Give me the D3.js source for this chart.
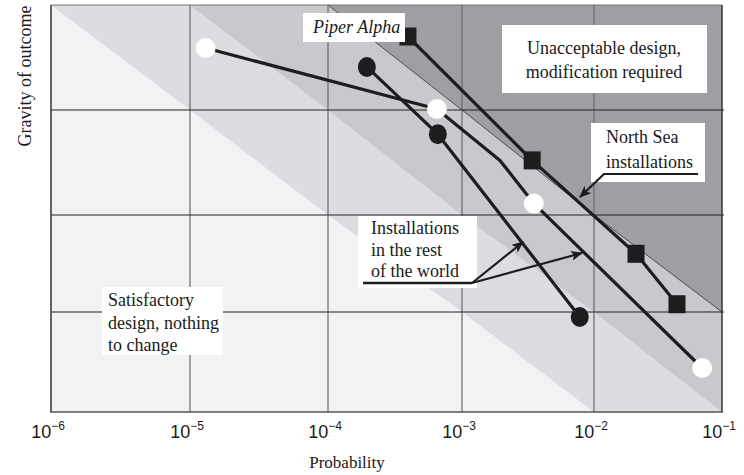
<!DOCTYPE html>
<meta charset="utf-8">
<script src="https://d3js.org/d3.v7.min.js"></script>
<style>
    body { margin: 0; background: #fff; }
    .serif { font-family: "Liberation Serif", "Times New Roman", serif; fill: #1a1a1a; }
    .tick { font-family: "Liberation Sans", Arial, sans-serif; fill: #1a1a1a; }
</style>
<div id="chart"></div>
<script>
    // axis ticks
    var decades = [1e-6, 1e-5, 1e-4, 1e-3, 1e-2, 1e-1];
    var decadeExp = ["\u22126", "\u22125", "\u22124", "\u22123", "\u22122", "\u22121"];
    var gravityLevels = [0, 1, 2, 3, 4];

    // installations in the rest of the world (white circles), 3rd point is a bend without marker
    var whiteProb = [1.3e-5, 6.5e-4, 1.94e-3, 3.5e-3, 7.0e-2];
    var whiteGrav = [3.59, 3.01, 2.52, 2.11, 0.44];
    var whiteMarker = [true, true, false, true, true];

    // installations in the rest of the world (black circles)
    var blackProb = [1.95e-4, 6.6e-4, 7.8e-3];
    var blackGrav = [3.41, 2.77, 0.95];

    // North Sea installations (squares)
    var squareProb = [3.95e-4, 3.4e-3, 2.13e-2, 4.45e-2];
    var squareGrav = [3.70, 2.52, 1.60, 1.08];

    // risk zone boundaries: log10(p) + gravity = c
    var zoneLimits = [-2, -1, 0];
    var zoneColors = ["#f1f2f4", "#dcdde0", "#c8c9cc", "#9e9fa3"];

    var width = 744, height = 475;
    var svg = d3.select("#chart").append("svg")
        .attr("width", width).attr("height", height);

    var x = d3.scaleLog().domain(decades).range([51, 190, 328, 462, 594, 722]);
    var y = d3.scaleLinear().domain(gravityLevels).range([412, 312, 215, 110, 5]);

    var pMin = decades[0], pMax = decades[decades.length - 1];
    var gMin = gravityLevels[0], gMax = gravityLevels[gravityLevels.length - 1];

    // background zones
    svg.append("rect")
        .attr("x", x(pMin)).attr("y", y(gMax))
        .attr("width", x(pMax) - x(pMin)).attr("height", y(gMin) - y(gMax))
        .attr("fill", zoneColors[0]);

    function boundary(c) {
        var pts = [];
        decades.forEach(function (p) {
            var g = c - Math.log10(p);
            if (g >= gMin - 1e-9 && g <= gMax + 1e-9) pts.push([p, g]);
        });
        return pts;
    }

    zoneLimits.forEach(function (c, i) {
        var pts = boundary(c);
        var last = pts[pts.length - 1];
        var poly = pts.slice();
        if (last[0] < pMax) poly.push([pMax, last[1]]);
        poly.push([pMax, gMax]);
        svg.append("path")
            .attr("d", d3.line().x(d => x(d[0])).y(d => y(d[1]))(poly) + "Z")
            .attr("fill", zoneColors[i + 1]);
    });

    // thin line on the unacceptable limit
    svg.append("path")
        .attr("d", d3.line().x(d => x(d[0])).y(d => y(d[1]))(boundary(zoneLimits[2])))
        .attr("stroke", "#222").attr("stroke-width", 0.7).attr("fill", "none");

    // grid
    svg.selectAll(".vgrid").data(decades.slice(1, -1)).enter().append("line")
        .attr("x1", d => x(d)).attr("x2", d => x(d))
        .attr("y1", y(gMax)).attr("y2", y(gMin))
        .attr("stroke", "#6a6a6a").attr("stroke-width", 1.2);
    svg.selectAll(".hgrid").data(gravityLevels.slice(1, -1)).enter().append("line")
        .attr("x1", x(pMin)).attr("x2", x(pMax) + 2)
        .attr("y1", d => y(d)).attr("y2", d => y(d))
        .attr("stroke", "#222").attr("stroke-width", 1.2);

    // frame
    svg.append("line").attr("x1", x(pMin)).attr("x2", x(pMax)).attr("y1", y(gMax)).attr("y2", y(gMax))
        .attr("stroke", "#777").attr("stroke-width", 1);
    svg.append("line").attr("x1", x(pMax)).attr("x2", x(pMax)).attr("y1", y(gMax)).attr("y2", y(gMin))
        .attr("stroke", "#333").attr("stroke-width", 1.5);
    svg.append("line").attr("x1", x(pMin)).attr("x2", x(pMin)).attr("y1", y(gMax)).attr("y2", y(gMin))
        .attr("stroke", "#333").attr("stroke-width", 1.5);
    svg.append("line").attr("x1", x(pMin) - 1).attr("x2", x(pMax) + 1).attr("y1", y(gMin)).attr("y2", y(gMin))
        .attr("stroke", "#555").attr("stroke-width", 1.5);

    // tick labels
    var tl = svg.selectAll(".tick").data(decades).enter().append("text")
        .attr("class", "tick")
        .attr("x", d => x(d) - 3)
        .attr("y", 438)
        .attr("text-anchor", "middle")
        .style("font-size", "18px");
    tl.append("tspan").text("10");
    tl.append("tspan").attr("dy", -8).style("font-size", "12px").text((d, i) => decadeExp[i]);

    // axis titles
    svg.append("text").attr("class", "serif")
        .attr("x", 347).attr("y", 468).attr("text-anchor", "middle")
        .style("font-size", "17px").text("Probability");
    svg.append("text").attr("class", "serif")
        .attr("transform", "translate(31,76) rotate(-90)").attr("text-anchor", "middle")
        .style("font-size", "18px").text("Gravity of outcome");

    // series lines
    var line = d3.line().x(d => x(d[0])).y(d => y(d[1]));
    var whitePts = whiteProb.map((p, i) => [p, whiteGrav[i]]);
    var blackPts = blackProb.map((p, i) => [p, blackGrav[i]]);
    var squarePts = squareProb.map((p, i) => [p, squareGrav[i]]);

    [whitePts, blackPts, squarePts].forEach(function (pts) {
        svg.append("path").attr("d", line(pts))
            .attr("stroke", "#1e1c1e").attr("stroke-width", 3.2)
            .attr("fill", "none").attr("stroke-linejoin", "round");
    });

    // markers
    svg.selectAll(".wc").data(whitePts.filter((d, i) => whiteMarker[i])).enter().append("circle")
        .attr("cx", d => x(d[0])).attr("cy", d => y(d[1])).attr("r", 10)
        .attr("fill", "#fff");
    svg.selectAll(".bc").data(blackPts).enter().append("ellipse")
        .attr("cx", d => x(d[0])).attr("cy", d => y(d[1])).attr("rx", 9).attr("ry", 10)
        .attr("fill", "#1e1c1e");
    svg.selectAll(".sq").data(squarePts).enter().append("rect")
        .attr("x", d => x(d[0]) - 8.5).attr("y", d => y(d[1]) - 9).attr("width", 17).attr("height", 18)
        .attr("fill", "#1e1c1e");

    // arrow head
    svg.append("defs").append("marker")
        .attr("id", "head").attr("viewBox", "0 0 12 10")
        .attr("refX", 11).attr("refY", 5)
        .attr("markerWidth", 12).attr("markerHeight", 10)
        .attr("markerUnits", "userSpaceOnUse")
        .attr("orient", "auto")
        .append("path").attr("d", "M0,0 L12,5 L0,10 L3,5 Z").attr("fill", "#1e1c1e");

    // annotation boxes
    function box(x0, y0, w, h, lines, opts) {
        svg.append("rect").attr("x", x0).attr("y", y0).attr("width", w).attr("height", h).attr("fill", "#fff");
        var t = svg.append("text").attr("class", "serif")
            .style("font-size", opts.size + "px")
            .style("font-style", opts.italic ? "italic" : "normal")
            .attr("text-anchor", opts.anchor || "start");
        lines.forEach(function (s, i) {
            t.append("tspan").attr("x", opts.tx).attr("y", opts.ty + i * opts.lh).text(s);
        });
    }

    box(303, 13, 102, 29, ["Piper Alpha"], { size: 18, italic: true, tx: 313, ty: 33, lh: 0 });
    box(502, 25, 205, 68, ["Unacceptable design,", "modification required"],
        { size: 18, anchor: "middle", tx: 604, ty: 54, lh: 24 });
    box(591, 123, 114, 59, ["North Sea", "installations"], { size: 18, tx: 606, ty: 143, lh: 25 });
    box(358, 216, 119, 72, ["Installations", "in the rest", "of the world"], { size: 18, tx: 371, ty: 234, lh: 21.5 });
    box(102, 287, 121, 68, ["Satisfactory", "design, nothing", "to change"], { size: 18, tx: 108, ty: 306, lh: 22.5 });

    // leader lines
    svg.append("path").attr("d", "M363,283 L472,283")
        .attr("stroke", "#1e1c1e").attr("stroke-width", 2.5).attr("fill", "none");
    [[523, 242], [582, 253]].forEach(function (tip) {
        svg.append("path").attr("d", "M472,283 L" + tip[0] + "," + tip[1])
            .attr("stroke", "#1e1c1e").attr("stroke-width", 2.2).attr("fill", "none")
            .attr("marker-end", "url(#head)");
    });
    svg.append("path").attr("d", "M698,174 L604,174 L580,197")
        .attr("stroke", "#1e1c1e").attr("stroke-width", 2.2).attr("fill", "none")
        .attr("marker-end", "url(#head)");
</script>
